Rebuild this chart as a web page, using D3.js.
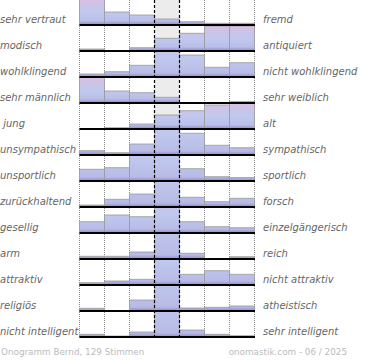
<!DOCTYPE html>
<html><head><meta charset="utf-8">
<script src="https://cdn.jsdelivr.net/npm/d3@7"></script>
<style>body{margin:0;background:#fff}svg{display:block}text{white-space:pre}</style>
</head><body>
<svg id="c" width="370" height="360"></svg>
<script>
const leftLabels = ["sehr vertraut","modisch","wohlklingend","sehr männlich"," jung","unsympathisch","unsportlich","zurückhaltend","gesellig","arm","attraktiv","religiös","nicht intelligent"];
const rightLabels = ["fremd","antiquiert","nicht wohlklingend","sehr weiblich","alt","sympathisch","sportlich","forsch","einzelgängerisch","reich","nicht attraktiv","atheistisch","sehr intelligent"];
const bins = [1,2,3,4,5,6,7];
// estimated votes per bin for each attribute pair
const votes = [
  [26, 13, 10, 6, 3.3, 1.7, 1.7],
  [2, 0, 3.3, 12.7, 17.7, 25, 25],
  [3, 5.3, 11.7, 40, 22, 9.7, 14.3],
  [26, 12, 10.3, 5.7, 0, 0, 1.5],
  [0, 1.3, 5, 14, 18.3, 24, 26],
  [4.3, 2.3, 11, 45, 21.7, 9.7, 7.3],
  [11.7, 13.3, 30, 50, 12.3, 4.3, 3.5],
  [2, 7.7, 13, 60, 9.7, 5.3, 8.7],
  [11.3, 18, 16.3, 40, 11.3, 6.3, 5.3],
  [2.7, 2.7, 7, 70, 5.7, 0, 2.3],
  [2.3, 4, 5.7, 55, 10.7, 14.3, 10.7],
  [2.7, 0, 11, 65, 3, 3.7, 5],
  [2.7, 1, 5, 70, 7, 2.7, 1.3]
];
const footerLeft = "Onogramm Bernd, 129 Stimmen";
const footerRight = "onomastik.com - 06 / 2025";

const svg = d3.select("#c");
const x = d3.scaleBand().domain(bins).range([79.5, 254.5]).padding(0);
const rowY = d3.scalePoint().domain(d3.range(votes.length)).range([25, 337]);
const h = d3.scaleLinear().domain([0, 26]).range([0, 26]);
const cap = 26;
const plotTop = 0, plotBottom = 338;

const defs = svg.append("defs");
const shade = defs.append("linearGradient").attr("id","shade").attr("x1",0).attr("x2",0).attr("y1",0).attr("y2",1);
shade.append("stop").attr("offset",0).attr("stop-color","#6e64b4").attr("stop-opacity",0);
shade.append("stop").attr("offset",1).attr("stop-color","#6e64b4").attr("stop-opacity",0.55);

votes.forEach((row, i) => {
  const b = rowY(i);
  const g = defs.append("linearGradient").attr("id","g"+i)
    .attr("gradientUnits","userSpaceOnUse").attr("x1",0).attr("x2",0)
    .attr("y1", b).attr("y2", b - h(d3.max(row)));
  [[0,"#b6b8e4"],[0.45,"#c0c8ee"],[0.75,"#c9c4e8"],[1,"#dcc0e2"]].forEach(s =>
    g.append("stop").attr("offset", s[0]).attr("stop-color", s[1]));
});

// middle column background
svg.append("rect").attr("x", x(4)).attr("y", plotTop).attr("width", x.bandwidth())
  .attr("height", plotBottom - plotTop).attr("fill", "#ececec");

// dotted grid
const bounds = bins.map(d => x(d)).concat([x(7) + x.bandwidth()]);
svg.selectAll(".dot").data(bounds.filter((d,i) => i !== 3 && i !== 4)).join("line")
  .attr("x1", d => d).attr("x2", d => d).attr("y1", plotTop).attr("y2", plotBottom)
  .attr("stroke", "#888").attr("stroke-width", 1).attr("stroke-dasharray", "1,1");

// bars
votes.forEach((row, i) => {
  const b = rowY(i);
  const gg = svg.append("g");
  const data = row.map((v, j) => ({bin: bins[j], v, ht: Math.min(h(v), cap)})).filter(d => d.ht > 0);
  gg.selectAll("rect.bar").data(data).join("rect").attr("class","bar")
    .attr("x", d => x(d.bin)).attr("y", d => b - d.ht).attr("width", x.bandwidth()).attr("height", d => d.ht)
    .attr("fill", "url(#g"+i+")").attr("stroke", "#9a9a9a").attr("stroke-width", 1).attr("stroke-opacity", 0.8);
  gg.selectAll("rect.sh").data(data).join("rect").attr("class","sh")
    .attr("x", d => x(d.bin) + 0.5).attr("y", d => b - Math.min(d.ht, 4)).attr("width", x.bandwidth() - 1)
    .attr("height", d => Math.min(d.ht, 4)).attr("fill", "url(#shade)");
});

// baselines
svg.selectAll(".base").data(votes.map((r,i)=>i)).join("line")
  .attr("x1", 79.5).attr("x2", 255).attr("y1", d => rowY(d)).attr("y2", d => rowY(d))
  .attr("stroke", "#000").attr("stroke-width", 2);

// dashed middle lines
svg.selectAll(".dash").data([x(4), x(4) + x.bandwidth()]).join("line")
  .attr("x1", d => d).attr("x2", d => d).attr("y1", plotTop).attr("y2", plotBottom)
  .attr("stroke", "#000").attr("stroke-width", 1.2).attr("stroke-dasharray", "3,2");

// labels
const font = "DejaVu Sans, Verdana, sans-serif";
svg.selectAll(".ll").data(leftLabels).join("text")
  .attr("x", 0).attr("y", (d,i) => rowY(i) - 2).text(d => d)
  .attr("font-family", font).attr("font-size", 10).attr("font-style", "italic").attr("fill", "#666");
svg.selectAll(".rl").data(rightLabels).join("text")
  .attr("x", 263).attr("y", (d,i) => rowY(i) - 2).text(d => d)
  .attr("font-family", font).attr("font-size", 10).attr("font-style", "italic").attr("fill", "#666");

svg.append("text").attr("x", 1).attr("y", 355).text(footerLeft)
  .attr("font-family", font).attr("font-size", 8.8).attr("fill", "#bbb");
svg.append("text").attr("x", 347).attr("y", 355).attr("text-anchor","end").text(footerRight)
  .attr("font-family", font).attr("font-size", 8.8).attr("fill", "#bbb");
</script>
</body></html>
